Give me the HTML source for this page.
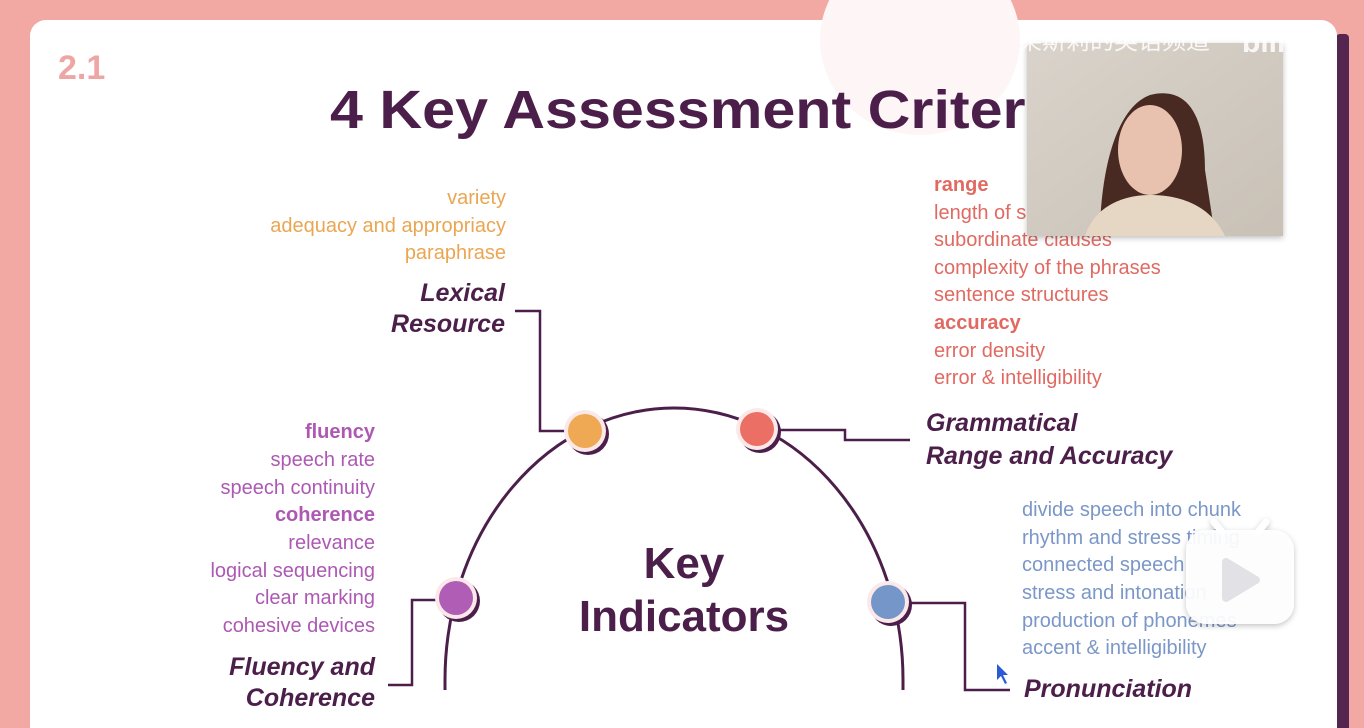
<!DOCTYPE html>
<html><head><meta charset="utf-8">
<style>
html,body{margin:0;padding:0;width:1364px;height:728px;overflow:hidden;background:#f2a8a3;}
svg{display:block;font-family:"Liberation Sans","Noto Sans CJK SC",sans-serif;}
.o{fill:#eaa652;font-size:20px}
.r{fill:#e06a62;font-size:20px}
.p{fill:#ad59b3;font-size:20px}
.b{fill:#7b97c8;font-size:20px}
.h{fill:#4b1f4a;font-size:25px;font-weight:bold;font-style:italic}
.bd{font-weight:bold}
</style></head>
<body>
<svg width="1364" height="728" viewBox="0 0 1364 728">
  <defs>
    <linearGradient id="cam" x1="0" y1="0" x2="1" y2="1">
      <stop offset="0" stop-color="#d9d3cb"/><stop offset="1" stop-color="#c9c1b6"/>
    </linearGradient>
    <filter id="sh" x="-30%" y="-30%" width="160%" height="160%">
      <feDropShadow dx="0" dy="2" stdDeviation="3" flood-color="#000" flood-opacity="0.25"/>
    </filter>
  </defs>
  <rect x="0" y="0" width="1364" height="728" fill="#f2a8a3"/>
  <rect x="1336" y="34" width="13" height="720" rx="4" fill="#53254f"/>
  <rect x="30" y="20" width="1307" height="740" rx="16" fill="#ffffff"/>
  <ellipse cx="920" cy="40" rx="100" ry="95" fill="#fdf5f6"/>
  <text x="58" y="79" font-size="34" font-weight="bold" fill="#eea6a4">2.1</text>
  <text x="330" y="128" font-size="54" font-weight="bold" fill="#4b1f4a" textLength="745" lengthAdjust="spacingAndGlyphs">4 Key Assessment Criteria</text>

  <path d="M445,690 L445,680 A229,272 0 0 1 903,680 L903,690" fill="none" stroke="#4b1f4a" stroke-width="3"/>

  <polyline points="566,431 540,431 540,311 515,311" fill="none" stroke="#4b1f4a" stroke-width="2.5"/>
  <polyline points="775,430 845,430 845,440 910,440" fill="none" stroke="#4b1f4a" stroke-width="2.5"/>
  <polyline points="438,600 412,600 412,685 388,685" fill="none" stroke="#4b1f4a" stroke-width="2.5"/>
  <polyline points="906,603 965,603 965,690 1010,690" fill="none" stroke="#4b1f4a" stroke-width="2.5"/>

  <g><circle cx="588" cy="434" r="21" fill="#4b1f4a"/><circle cx="585" cy="431" r="21" fill="#fbe9ea"/><circle cx="585" cy="431" r="17" fill="#efa955"/></g>
  <g><circle cx="760" cy="432" r="21" fill="#4b1f4a"/><circle cx="757" cy="429" r="21" fill="#fbe9ea"/><circle cx="757" cy="429" r="17" fill="#ec6f65"/></g>
  <g><circle cx="459" cy="601" r="21" fill="#4b1f4a"/><circle cx="456" cy="598" r="21" fill="#fbe9ea"/><circle cx="456" cy="598" r="17" fill="#b05db6"/></g>
  <g><circle cx="891" cy="605" r="21" fill="#4b1f4a"/><circle cx="888" cy="602" r="21" fill="#fbe9ea"/><circle cx="888" cy="602" r="17" fill="#7596c8"/></g>

  <text x="684" y="578" text-anchor="middle" font-size="44" font-weight="bold" fill="#4b1f4a">Key</text>
  <text x="684" y="631" text-anchor="middle" font-size="44" font-weight="bold" fill="#4b1f4a">Indicators</text>

  <g text-anchor="end">
    <text class="o" x="506" y="204">variety</text>
    <text class="o" x="506" y="232">adequacy and appropriacy</text>
    <text class="o" x="506" y="259">paraphrase</text>
    <text class="h" x="505" y="301">Lexical</text>
    <text class="h" x="505" y="332">Resource</text>
  </g>

  <g>
    <text class="r bd" x="934" y="191">range</text>
    <text class="r" x="934" y="219">length of sentences</text>
    <text class="r" x="934" y="246">subordinate clauses</text>
    <text class="r" x="934" y="274">complexity of the phrases</text>
    <text class="r" x="934" y="301">sentence structures</text>
    <text class="r bd" x="934" y="329">accuracy</text>
    <text class="r" x="934" y="357">error density</text>
    <text class="r" x="934" y="384">error &amp; intelligibility</text>
    <text class="h" x="926" y="431">Grammatical</text>
    <text class="h" x="926" y="464">Range and Accuracy</text>
  </g>

  <g text-anchor="end">
    <text class="p bd" x="375" y="438">fluency</text>
    <text class="p" x="375" y="466">speech rate</text>
    <text class="p" x="375" y="494">speech continuity</text>
    <text class="p bd" x="375" y="521">coherence</text>
    <text class="p" x="375" y="549">relevance</text>
    <text class="p" x="375" y="577">logical sequencing</text>
    <text class="p" x="375" y="604">clear marking</text>
    <text class="p" x="375" y="632">cohesive devices</text>
    <text class="h" x="375" y="675">Fluency and</text>
    <text class="h" x="375" y="706">Coherence</text>
  </g>

  <g>
    <text class="b" x="1022" y="516">divide speech into chunk</text>
    <text class="b" x="1022" y="544">rhythm and stress timing</text>
    <text class="b" x="1022" y="571">connected speech</text>
    <text class="b" x="1022" y="599">stress and intonation</text>
    <text class="b" x="1022" y="627">production of phonemes</text>
    <text class="b" x="1022" y="654">accent &amp; intelligibility</text>
    <text class="h" x="1024" y="697">Pronunciation</text>
  </g>

  <g filter="url(#sh)">
    <rect x="1027" y="43" width="256" height="193" fill="url(#cam)"/>
    <path d="M1100,236 C1100,190 1110,110 1150,95 C1190,85 1205,120 1205,170 L1215,236 Z" fill="#4a2a22"/>
    <ellipse cx="1150" cy="150" rx="32" ry="45" fill="#e8c2ae"/>
    <path d="M1085,236 C1095,205 1125,195 1150,195 C1180,195 1210,205 1225,236 Z" fill="#e6d7c4"/>
  </g>
  <text x="1018" y="49" font-size="24" fill="#ffffff" fill-opacity="0.85">莱斯莉的英语频道</text>
  <text x="1242" y="52" font-size="30" font-weight="bold" fill="#ffffff" fill-opacity="0.85">bili</text>

  <g filter="url(#sh)">
    <line x1="1222" y1="532" x2="1214" y2="522" stroke="#ffffff" stroke-width="7" stroke-linecap="round"/>
    <line x1="1258" y1="532" x2="1266" y2="522" stroke="#ffffff" stroke-width="7" stroke-linecap="round"/>
    <rect x="1186" y="530" width="108" height="94" rx="20" fill="#ffffff" fill-opacity="0.92"/>
    <path d="M1226,562 L1256,580 L1226,598 Z" fill="#e2e2e6" stroke="#e2e2e6" stroke-width="8" stroke-linejoin="round"/>
  </g>
  <path d="M997,664 L997,680 L1001,676 L1005,684 L1007,683 L1003,675 L1008,675 Z" fill="#2a5bd7"/>
</svg>
</body></html>
